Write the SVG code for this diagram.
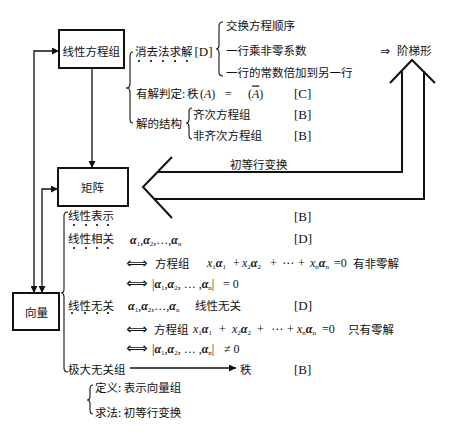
<svg xmlns="http://www.w3.org/2000/svg" width="454" height="444" viewBox="0 0 454 444">
<style>
.cn{font-family:"Noto Sans CJK SC",sans-serif;font-size:11.5px;fill:#111}
.lt{font-family:"Liberation Serif",serif;font-size:13px;fill:#111}
.m{font-family:"Liberation Serif",serif;font-size:12px;fill:#111}
.a{font-weight:bold;font-style:italic}
.i{font-style:italic}
.s{font-size:7px;font-weight:normal;font-style:normal}
.sym{font-family:"DejaVu Sans",sans-serif;font-size:12px;fill:#111}
.dbl{font-family:"DejaVu Sans",sans-serif;font-size:15px;fill:#111}
.box{fill:#fff;stroke:#111;stroke-width:2}
.ln{fill:none;stroke:#111;stroke-width:1.3}
.br{fill:none;stroke:#111;stroke-width:1.1}
.big{fill:none;stroke:#111;stroke-width:2}
.dot{fill:#111}
</style>
<defs>
<marker id="ah" viewBox="0 0 10 10" refX="10" refY="5" markerWidth="7" markerHeight="7" markerUnits="userSpaceOnUse" orient="auto-start-reverse">
<path d="M0,0 L10,5 L0,10 Z" fill="#111"/>
</marker>
</defs>
<rect width="454" height="444" fill="#fff"/>

<g id="connectors">
<path class="ln" d="M92,68 V168" marker-end="url(#ah)"/>
<path class="ln" d="M34,293 V51 H59" marker-start="url(#ah)" marker-end="url(#ah)"/>
<path class="ln" d="M42,293 V189 H58" marker-start="url(#ah)" marker-end="url(#ah)"/>
<path class="ln" d="M130,368 H236" marker-end="url(#ah)"/>
<g id="big-arrow">
<path class="big" d="M390,83 L412,60 L435,83"/>
<path class="big" d="M402,71 V172 H158"/>
<path class="big" d="M424,71 V199 H154"/>
<path class="big" d="M172,157 L143,187 L172,218"/>
</g>
</g>

<g id="node-xianxing">
<rect class="box" x="59" y="30" width="65" height="38"/>
<text class="cn" x="62.5" y="56">线性方程组</text>
</g>
<g id="node-juzhen">
<rect class="box" x="58" y="168" width="70" height="38"/>
<text class="cn" x="81" y="192">矩阵</text>
</g>
<g id="node-xiangliang">
<rect class="box" x="13" y="293" width="46" height="37"/>
<text class="cn" x="25" y="316.5">向量</text>
</g>

<g id="braces">
<path class="br" d="M133,52 Q130,52 130,56 L130,84 Q130,88 126,88 Q130,88 130,92 L130,119 Q130,123 133,123"/>
<path class="br" d="M223,22 Q219,22 219,26 L219,45 Q219,49 216,49 Q219,49 219,53 L219,72 Q219,76 223,76"/>
<path class="br" d="M192,108 Q189,108 189,112 L189,119 Q189,123 186,123 Q189,123 189,127 L189,135 Q189,139 192,139"/>
<path class="br" d="M68,212 Q64,212 64,216 L64,289 Q64,293 61,293 Q64,293 64,297 L64,368 Q64,372 68,372"/>
<path class="br" d="M93,385 Q90,385 90,389 L90,396 Q90,400 87,400 Q90,400 90,404 L90,410 Q90,414 93,414"/>
</g>

<g id="eq-section">
<text class="cn" x="135" y="55.5">消去法求解</text>
<text class="lt" x="194.5" y="56">[D]</text>
<g class="dot"><circle cx="139" cy="61" r="1.1"/><circle cx="151" cy="61" r="1.1"/><circle cx="163" cy="61" r="1.1"/><circle cx="175" cy="61" r="1.1"/><circle cx="187" cy="61" r="1.1"/></g>
<text class="cn" x="226" y="29.5">交换方程顺序</text>
<text class="cn" x="226" y="54.5">一行乘非零系数</text>
<text class="cn" x="226" y="76.5">一行的常数倍加到另一行</text>
<text class="sym" x="380" y="54.5">⇒</text>
<text class="cn" x="397" y="54.5">阶梯形</text>

<text class="cn" x="136" y="97.5">有解判定:</text>
<text class="cn" x="187" y="97.5">秩</text>
<text class="m" x="200" y="97.5">(<tspan class="i">A</tspan>)</text>
<text class="m" x="225" y="97.5">=</text>
<text class="m" x="248" y="97.5">(<tspan class="i" text-decoration="overline">A</tspan>)</text>
<text class="lt" x="294" y="98">[C]</text>

<text class="cn" x="136" y="127.5">解的结构</text>
<text class="cn" x="193" y="118.5">齐次方程组</text>
<text class="lt" x="294" y="119">[B]</text>
<text class="cn" x="193" y="139.5">非齐次方程组</text>
<text class="lt" x="294" y="140">[B]</text>

<text class="cn" x="230" y="169">初等行变换</text>
</g>

<g id="matrix-section">
<text class="cn" x="68" y="219.5">线性表示</text>
<g class="dot"><circle cx="74" cy="225" r="1.1"/><circle cx="86" cy="225" r="1.1"/><circle cx="97" cy="225" r="1.1"/><circle cx="108" cy="225" r="1.1"/></g>
<text class="lt" x="294" y="220.5">[B]</text>

<text class="cn" x="68" y="242.5">线性相关</text>
<g class="dot"><circle cx="74" cy="248" r="1.1"/><circle cx="86" cy="248" r="1.1"/><circle cx="97" cy="248" r="1.1"/><circle cx="108" cy="248" r="1.1"/></g>
<text class="m" x="130" y="244"><tspan class="a">α</tspan><tspan class="s" dy="2">1</tspan><tspan dy="-2">,</tspan><tspan class="a">α</tspan><tspan class="s" dy="2">2</tspan><tspan dy="-2">,…,</tspan><tspan class="a">α</tspan><tspan class="s" dy="2">n</tspan></text>
<text class="lt" x="294" y="243">[D]</text>

<text class="dbl" x="126" y="268">⟺</text>
<text class="cn" x="155" y="267.5">方程组</text>
<text class="m" x="207" y="267"><tspan class="i">x</tspan><tspan class="s" dy="2">1</tspan><tspan class="a" dy="-2">α</tspan><tspan class="s" dy="2">1</tspan></text>
<text class="m" x="233" y="267">+</text>
<text class="m" x="242" y="267"><tspan class="i">x</tspan><tspan class="s" dy="2">2</tspan><tspan class="a" dy="-2">α</tspan><tspan class="s" dy="2">2</tspan></text>
<text class="m" x="270" y="267">+</text>
<text class="sym" x="282" y="267" font-size="9">⋯</text>
<text class="m" x="298" y="267">+</text>
<text class="m" x="310" y="267"><tspan class="i">x</tspan><tspan class="s" dy="2">n</tspan><tspan class="a" dy="-2">α</tspan><tspan class="s" dy="2">n</tspan></text>
<text class="m" x="334" y="267">=0</text>
<text class="cn" x="353" y="267.5">有非零解</text>

<text class="dbl" x="126" y="288">⟺</text>
<text class="m" x="152" y="287.5">|<tspan class="a">α</tspan><tspan class="s" dy="2">1</tspan><tspan dy="-2">,</tspan><tspan class="a">α</tspan><tspan class="s" dy="2">2</tspan><tspan dy="-2">, … ,</tspan><tspan class="a">α</tspan><tspan class="s" dy="2">n</tspan><tspan dy="-2">|</tspan></text>
<text class="m" x="223" y="287.5">= 0</text>

<text class="cn" x="68" y="309.5">线性无关</text>
<g class="dot"><circle cx="72" cy="313" r="1.1"/><circle cx="85" cy="313" r="1.1"/><circle cx="97" cy="313" r="1.1"/><circle cx="108" cy="313" r="1.1"/></g>
<text class="m" x="128" y="309.5"><tspan class="a">α</tspan><tspan class="s" dy="2">1</tspan><tspan dy="-2">,</tspan><tspan class="a">α</tspan><tspan class="s" dy="2">2</tspan><tspan dy="-2">,…,</tspan><tspan class="a">α</tspan><tspan class="s" dy="2">n</tspan></text>
<text class="cn" x="195" y="309.5">线性无关</text>
<text class="lt" x="294" y="310">[D]</text>

<text class="dbl" x="126" y="334">⟺</text>
<text class="cn" x="154" y="333.5">方程组</text>
<text class="m" x="193" y="333"><tspan class="i">x</tspan><tspan class="s" dy="2">1</tspan><tspan class="a" dy="-2">α</tspan><tspan class="s" dy="2">1</tspan></text>
<text class="m" x="219" y="333">+</text>
<text class="m" x="232" y="333"><tspan class="i">x</tspan><tspan class="s" dy="2">2</tspan><tspan class="a" dy="-2">α</tspan><tspan class="s" dy="2">2</tspan></text>
<text class="m" x="257" y="333">+</text>
<text class="sym" x="271" y="333" font-size="9">⋯</text>
<text class="m" x="287" y="333">+</text>
<text class="m" x="297" y="333"><tspan class="i">x</tspan><tspan class="s" dy="2">n</tspan><tspan class="a" dy="-2">α</tspan><tspan class="s" dy="2">n</tspan></text>
<text class="m" x="322" y="333">=0</text>
<text class="cn" x="348" y="333.5">只有零解</text>

<text class="dbl" x="126" y="353">⟺</text>
<text class="m" x="152" y="352.5">|<tspan class="a">α</tspan><tspan class="s" dy="2">1</tspan><tspan dy="-2">,</tspan><tspan class="a">α</tspan><tspan class="s" dy="2">2</tspan><tspan dy="-2">, … ,</tspan><tspan class="a">α</tspan><tspan class="s" dy="2">n</tspan><tspan dy="-2">|</tspan></text>
<text class="m" x="224" y="352.5">≠ 0</text>

<text class="cn" x="68" y="373.5">极大无关组</text>
<text class="cn" x="240" y="373.5">秩</text>
<text class="lt" x="294" y="374">[B]</text>

<text class="cn" x="95" y="391.5">定义: 表示向量组</text>
<text class="cn" x="95" y="416.5">求法: 初等行变换</text>
</g>
</svg>
